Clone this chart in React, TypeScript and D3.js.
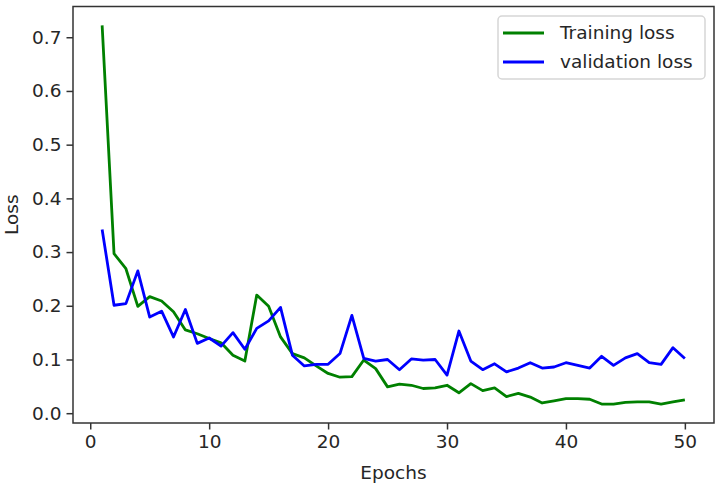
import React, { useEffect, useRef } from "react";
import * as d3 from "d3";

// per-epoch losses
const epochs = d3.range(1, 51);

const trainingLoss = [
  0.722, 0.297, 0.269, 0.199, 0.217, 0.209, 0.189, 0.155, 0.148, 0.139,
  0.131, 0.108, 0.097, 0.22, 0.199, 0.142, 0.111, 0.103, 0.088, 0.074,
  0.067, 0.068, 0.099, 0.083, 0.049, 0.054, 0.052, 0.046, 0.047, 0.052,
  0.038, 0.055, 0.042, 0.047, 0.031, 0.037, 0.03, 0.019, 0.023, 0.027,
  0.027, 0.026, 0.017, 0.017, 0.02, 0.021, 0.021, 0.017, 0.021, 0.025,
];

const validationLoss = [
  0.342, 0.201, 0.204, 0.265, 0.179, 0.19, 0.142, 0.193, 0.13, 0.14,
  0.125, 0.15, 0.119, 0.158, 0.172, 0.197, 0.108, 0.088, 0.091, 0.091,
  0.111, 0.182, 0.102, 0.097, 0.1, 0.081, 0.101, 0.099, 0.1, 0.071,
  0.153, 0.097, 0.081, 0.092, 0.077, 0.084, 0.094, 0.084, 0.086, 0.094,
  0.089, 0.084, 0.106, 0.089, 0.103, 0.111, 0.094, 0.091, 0.122, 0.102,
];

const xTicks = [0, 10, 20, 30, 40, 50];
const yTicks = [0, 0.1, 0.2, 0.3, 0.4, 0.5, 0.6, 0.7];

const series = [
  { name: "Training loss", values: trainingLoss, color: "#008000" },
  { name: "validation loss", values: validationLoss, color: "#0000ff" },
];

const W = 716;
const H = 485;
const FONT = "DejaVu Sans, sans-serif";
const FS = 18.5;
const INK = "#262626";

export default function App() {
  const ref = useRef<SVGSVGElement | null>(null);

  useEffect(() => {
    const svg = d3.select(ref.current);
    svg.selectAll("*").remove();

    const left = 73,
      right = 714,
      top = 6.5,
      bottom = 423;

    // matplotlib-style 5% padding around the data
    const xPad = (d3.max(epochs)! - d3.min(epochs)!) * 0.05;
    const all = trainingLoss.concat(validationLoss);
    const yMin = d3.min(all)!;
    const yMax = d3.max(all)!;
    const yPad = (yMax - yMin) * 0.05;

    const x = d3
      .scaleLinear()
      .domain([d3.min(epochs)! - xPad, d3.max(epochs)! + xPad])
      .range([left, right]);
    const y = d3
      .scaleLinear()
      .domain([yMin - yPad, yMax + yPad])
      .range([bottom, top]);

    svg.append("rect").attr("width", W).attr("height", H).attr("fill", "#fff");

    const line = d3
      .line<number>()
      .x((d, i) => x(epochs[i]))
      .y((d) => y(d));

    svg
      .selectAll(".series")
      .data(series)
      .enter()
      .append("path")
      .attr("class", "series")
      .attr("d", (d) => line(d.values))
      .attr("fill", "none")
      .attr("stroke", (d) => d.color)
      .attr("stroke-width", 2.8)
      .attr("stroke-linejoin", "round");

    // frame
    svg
      .append("rect")
      .attr("x", left)
      .attr("y", top)
      .attr("width", right - left)
      .attr("height", bottom - top)
      .attr("fill", "none")
      .attr("stroke", "#333")
      .attr("stroke-width", 1.5);

    const xAxis = svg
      .append("g")
      .attr("transform", "translate(0," + bottom + ")")
      .call(
        d3
          .axisBottom(x)
          .tickValues(xTicks)
          .tickFormat(d3.format("d"))
          .tickSize(6.5)
          .tickPadding(5)
      );
    const yAxis = svg
      .append("g")
      .attr("transform", "translate(" + left + ",0)")
      .call(
        d3
          .axisLeft(y)
          .tickValues(yTicks)
          .tickFormat(d3.format(".1f"))
          .tickSize(6.5)
          .tickPadding(5)
      );

    [xAxis, yAxis].forEach((g) => {
      g.select(".domain").remove();
      g.selectAll("line").attr("stroke", "#333").attr("stroke-width", 1.5);
      g.selectAll("text")
        .attr("fill", INK)
        .style("font-family", FONT)
        .style("font-size", FS + "px");
    });

    svg
      .append("text")
      .attr("x", (left + right) / 2)
      .attr("y", 479)
      .attr("text-anchor", "middle")
      .attr("fill", INK)
      .style("font-family", FONT)
      .style("font-size", FS + "px")
      .text("Epochs");

    svg
      .append("text")
      .attr("transform", "translate(18," + (top + bottom) / 2 + ") rotate(-90)")
      .attr("text-anchor", "middle")
      .attr("fill", INK)
      .style("font-family", FONT)
      .style("font-size", FS + "px")
      .text("Loss");

    // legend, upper right
    const legend = svg.append("g").attr("transform", "translate(498,16)");
    legend
      .append("rect")
      .attr("width", 207)
      .attr("height", 63)
      .attr("rx", 4)
      .attr("fill", "#fff")
      .attr("fill-opacity", 0.8)
      .attr("stroke", "#d6d6d6")
      .attr("stroke-width", 1.5);

    const items = legend
      .selectAll(".item")
      .data(series)
      .enter()
      .append("g")
      .attr("class", "item")
      .attr("transform", (d, i) => "translate(0," + (17 + i * 29) + ")");

    items
      .append("line")
      .attr("x1", 5)
      .attr("x2", 46)
      .attr("stroke", (d) => d.color)
      .attr("stroke-width", 2.8);

    items
      .append("text")
      .attr("x", 62)
      .attr("dy", "0.35em")
      .attr("fill", INK)
      .style("font-family", FONT)
      .style("font-size", FS + "px")
      .text((d) => d.name);
  }, []);

  return (
    <svg
      ref={ref}
      width={W}
      height={H}
      style={{ position: "absolute", left: 0, top: 0, display: "block" }}
    />
  );
}
